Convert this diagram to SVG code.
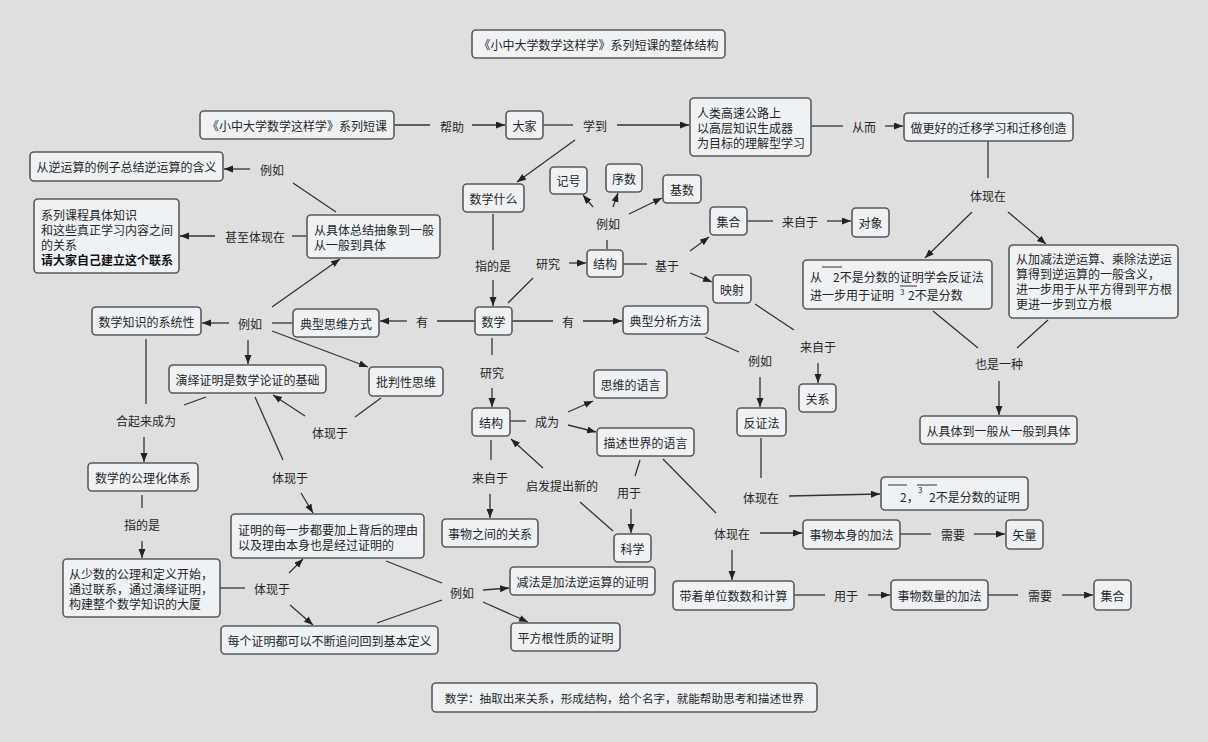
<svg xmlns="http://www.w3.org/2000/svg" width="1208" height="742" viewBox="0 0 1208 742">
<defs>
<marker id="ah" markerUnits="userSpaceOnUse" markerWidth="10" markerHeight="8" refX="9" refY="3.5" orient="auto">
<path d="M0,0 L9,3.5 L0,7 z" fill="#222"/>
</marker>
<style>
.bg{fill:#e0dfdf}
rect.n{fill:#eef2f5;stroke:#5a5a5a;stroke-width:1.6}
text{font-family:"Noto Sans CJK SC","Noto Sans",sans-serif;font-size:12px;fill:#262626}
.c{text-anchor:middle;dominant-baseline:central}
.l{dominant-baseline:central}
.b{font-weight:bold;fill:#111}
#connectors line{stroke:#333;stroke-width:1.3}
#connectors line.a{marker-end:url(#ah)}
.ov{stroke:#333;stroke-width:1}
.sup{font-size:8px}
</style>
</defs>
<rect class="bg" x="0" y="0" width="1208" height="742"/>

<g id="connectors">
<line x1="394" y1="125" x2="430" y2="125"/>
<line class="a" x1="472" y1="125" x2="505" y2="125"/>
<line x1="543" y1="125" x2="573" y2="125"/>
<line class="a" x1="617" y1="125" x2="689" y2="125"/>
<line x1="811" y1="126" x2="843" y2="126"/>
<line class="a" x1="885" y1="126" x2="903" y2="126"/>
<line class="a" x1="575" y1="140" x2="517" y2="182"/>
<line x1="493" y1="214" x2="493" y2="250"/>
<line class="a" x1="493" y1="280" x2="493" y2="306"/>
<line x1="508" y1="303" x2="533" y2="278"/>
<line class="a" x1="569" y1="263" x2="586" y2="263"/>
<line x1="607" y1="249" x2="607" y2="240"/>
<line class="a" x1="593" y1="207" x2="583" y2="195"/>
<line class="a" x1="613" y1="207" x2="618" y2="193"/>
<line class="a" x1="629" y1="214" x2="662" y2="198"/>
<line x1="623" y1="264" x2="647" y2="264"/>
<line class="a" x1="690" y1="251" x2="709" y2="237"/>
<line class="a" x1="690" y1="273" x2="712" y2="282"/>
<line x1="747" y1="221" x2="773" y2="221"/>
<line class="a" x1="827" y1="221" x2="851" y2="221"/>
<line x1="755" y1="304" x2="794" y2="330"/>
<line class="a" x1="818" y1="363" x2="818" y2="383"/>
<line x1="988" y1="141" x2="988" y2="178"/>
<line class="a" x1="972" y1="212" x2="925" y2="258"/>
<line class="a" x1="1008" y1="212" x2="1046" y2="244"/>
<line x1="933" y1="311" x2="978" y2="348"/>
<line x1="1048" y1="320" x2="1017" y2="348"/>
<line class="a" x1="999" y1="381" x2="999" y2="415"/>
<line x1="512" y1="321" x2="553" y2="321"/>
<line class="a" x1="583" y1="321" x2="622" y2="321"/>
<line x1="705" y1="337" x2="739" y2="352"/>
<line class="a" x1="760" y1="377" x2="760" y2="407"/>
<line x1="761" y1="438" x2="761" y2="478"/>
<line class="a" x1="789" y1="496" x2="880" y2="494"/>
<line x1="475" y1="321" x2="437" y2="321"/>
<line class="a" x1="407" y1="321" x2="380" y2="321"/>
<line x1="293" y1="323" x2="272" y2="323"/>
<line class="a" x1="229" y1="323" x2="202" y2="323"/>
<line class="a" x1="248" y1="340" x2="248" y2="364"/>
<line class="a" x1="272" y1="331" x2="368" y2="367"/>
<line class="a" x1="272" y1="307" x2="340" y2="259"/>
<line x1="336" y1="212" x2="293" y2="183"/>
<line class="a" x1="250" y1="169" x2="224" y2="169"/>
<line x1="306" y1="236" x2="292" y2="236"/>
<line class="a" x1="215" y1="236" x2="180" y2="236"/>
<line x1="381" y1="398" x2="355" y2="417"/>
<line class="a" x1="305" y1="416" x2="273" y2="395"/>
<line x1="146" y1="339" x2="146" y2="404"/>
<line x1="206" y1="397" x2="184" y2="405"/>
<line class="a" x1="144" y1="437" x2="144" y2="462"/>
<line x1="255" y1="397" x2="283" y2="460"/>
<line class="a" x1="301" y1="493" x2="313" y2="513"/>
<line x1="142" y1="495" x2="142" y2="508"/>
<line class="a" x1="142" y1="541" x2="142" y2="558"/>
<line x1="220" y1="588" x2="245" y2="588"/>
<line class="a" x1="289" y1="573" x2="303" y2="559"/>
<line class="a" x1="290" y1="605" x2="313" y2="625"/>
<line x1="386" y1="561" x2="442" y2="583"/>
<line x1="377" y1="623" x2="442" y2="600"/>
<line class="a" x1="483" y1="590" x2="509" y2="588"/>
<line class="a" x1="483" y1="602" x2="528" y2="622"/>
<line x1="510" y1="421" x2="526" y2="421"/>
<line class="a" x1="568" y1="412" x2="593" y2="401"/>
<line class="a" x1="568" y1="425" x2="596" y2="432"/>
<line x1="492" y1="338" x2="492" y2="355"/>
<line class="a" x1="492" y1="388" x2="492" y2="407"/>
<line x1="491" y1="440" x2="491" y2="460"/>
<line class="a" x1="490" y1="494" x2="490" y2="518"/>
<line x1="613" y1="531" x2="580" y2="502"/>
<line class="a" x1="543" y1="468" x2="511" y2="439"/>
<line x1="640" y1="460" x2="635" y2="476"/>
<line class="a" x1="631" y1="509" x2="631" y2="533"/>
<line x1="663" y1="459" x2="716" y2="513"/>
<line class="a" x1="760" y1="533" x2="802" y2="533"/>
<line class="a" x1="732" y1="550" x2="732" y2="580"/>
<line x1="900" y1="534" x2="931" y2="534"/>
<line class="a" x1="974" y1="534" x2="1005" y2="534"/>
<line x1="794" y1="595" x2="825" y2="595"/>
<line class="a" x1="868" y1="595" x2="890" y2="595"/>
<line x1="988" y1="595" x2="1018" y2="595"/>
<line class="a" x1="1062" y1="595" x2="1093" y2="595"/>
</g>

<g id="labels">
<text class="c" x="452" y="126">帮助</text>
<text class="c" x="595" y="125">学到</text>
<text class="c" x="864" y="126">从而</text>
<text class="c" x="272" y="169">例如</text>
<text class="c" x="255" y="236">甚至体现在</text>
<text class="c" x="608" y="223">例如</text>
<text class="c" x="493" y="265">指的是</text>
<text class="c" x="548" y="263">研究</text>
<text class="c" x="667" y="265">基于</text>
<text class="c" x="800" y="221">来自于</text>
<text class="c" x="988" y="195">体现在</text>
<text class="c" x="818" y="346">来自于</text>
<text class="c" x="999" y="363">也是一种</text>
<text class="c" x="250" y="323">例如</text>
<text class="c" x="422" y="321">有</text>
<text class="c" x="568" y="321">有</text>
<text class="c" x="760" y="360">例如</text>
<text class="c" x="492" y="372">研究</text>
<text class="c" x="547" y="421">成为</text>
<text class="c" x="330" y="432">体现于</text>
<text class="c" x="146" y="420">合起来成为</text>
<text class="c" x="290" y="477">体现于</text>
<text class="c" x="490" y="477">来自于</text>
<text class="c" x="562" y="485">启发提出新的</text>
<text class="c" x="629" y="492">用于</text>
<text class="c" x="761" y="497">体现在</text>
<text class="c" x="732" y="533">体现在</text>
<text class="c" x="953" y="534">需要</text>
<text class="c" x="846" y="595">用于</text>
<text class="c" x="1040" y="595">需要</text>
<text class="c" x="142" y="524">指的是</text>
<text class="c" x="272" y="588">体现于</text>
<text class="c" x="462" y="592">例如</text>
</g>

<g id="n_title"><rect class="n" x="472" y="30" width="253" height="28" rx="4"/><text class="c" x="598.5" y="44">《小中大学数学这样学》系列短课的整体结构</text></g>
<g id="n_course"><rect class="n" x="200" y="111" width="194" height="28" rx="4"/><text class="c" x="297" y="125">《小中大学数学这样学》系列短课</text></g>
<g id="n_dajia"><rect class="n" x="506" y="111" width="37" height="28" rx="4"/><text class="c" x="524.5" y="125">大家</text></g>
<g id="n_highway"><rect class="n" x="690" y="98" width="121" height="58" rx="4"/><text class="l"><tspan x="697" y="112">人类高速公路上</tspan><tspan x="697" y="127">以高层知识生成器</tspan><tspan x="697" y="142">为目标的理解型学习</tspan></text></g>
<g id="n_transfer"><rect class="n" x="904" y="113" width="169" height="28" rx="4"/><text class="c" x="988.5" y="127">做更好的迁移学习和迁移创造</text></g>
<g id="n_inverse_ex"><rect class="n" x="30" y="152" width="193" height="29" rx="4"/><text class="c" x="126.5" y="166.5">从逆运算的例子总结逆运算的含义</text></g>
<g id="n_series"><rect class="n" x="34" y="199" width="145" height="74" rx="4"/><text class="l"><tspan x="41" y="214">系列课程具体知识</tspan><tspan x="41" y="229">和这些真正学习内容之间</tspan><tspan x="41" y="244">的关系</tspan><tspan class="b" x="41" y="259">请大家自己建立这个联系</tspan></text></g>
<g id="n_abstract"><rect class="n" x="307" y="215" width="133" height="43" rx="4"/><text class="l"><tspan x="314" y="229">从具体总结抽象到一般</tspan><tspan x="314" y="244">从一般到具体</tspan></text></g>
<g id="n_whatmath"><rect class="n" x="463" y="184" width="61" height="28" rx="4"/><text class="c" x="493.5" y="198">数学什么</text></g>
<g id="n_jihao"><rect class="n" x="550" y="167" width="37" height="27" rx="4"/><text class="c" x="568.5" y="180.5">记号</text></g>
<g id="n_xushu"><rect class="n" x="606" y="164" width="36" height="28" rx="4"/><text class="c" x="624" y="178">序数</text></g>
<g id="n_jishu"><rect class="n" x="663" y="175" width="38" height="28" rx="4"/><text class="c" x="682" y="189">基数</text></g>
<g id="n_struct1"><rect class="n" x="587" y="250" width="36" height="27" rx="4"/><text class="c" x="605" y="263.5">结构</text></g>
<g id="n_set1"><rect class="n" x="710" y="207" width="37" height="28" rx="4"/><text class="c" x="728.5" y="221">集合</text></g>
<g id="n_object"><rect class="n" x="852" y="208" width="37" height="29" rx="4"/><text class="c" x="870.5" y="222.5">对象</text></g>
<g id="n_map"><rect class="n" x="713" y="275" width="38" height="28" rx="4"/><text class="c" x="732" y="289">映射</text></g>
<g id="n_sqrt"><rect class="n" x="803" y="260" width="189" height="49" rx="4"/>
<line class="ov" x1="822" y1="267" x2="842" y2="267"/>
<line class="ov" x1="900" y1="286" x2="917" y2="286"/>
<text class="l"><tspan x="810" y="276">从</tspan><tspan x="833" y="276">2不是分数的证明学会反证法</tspan><tspan x="810" y="294">进一步用于证明</tspan><tspan class="sup" x="900" y="290.5">3</tspan><tspan x="908" y="294">2不是分数</tspan></text></g>
<g id="n_inverse_gen"><rect class="n" x="1009" y="245" width="169" height="73" rx="4"/><text class="l"><tspan x="1016" y="258">从加减法逆运算、乘除法逆运</tspan><tspan x="1016" y="273">算得到逆运算的一般含义，</tspan><tspan x="1016" y="288">进一步用于从平方得到平方根</tspan><tspan x="1016" y="303">更进一步到立方根</tspan></text></g>
<g id="n_math"><rect class="n" x="475" y="307" width="37" height="28" rx="4"/><text class="c" x="493.5" y="321">数学</text></g>
<g id="n_analysis"><rect class="n" x="623" y="306" width="85" height="28" rx="4"/><text class="c" x="665.5" y="320">典型分析方法</text></g>
<g id="n_thinking"><rect class="n" x="293" y="309" width="86" height="28" rx="4"/><text class="c" x="336" y="323">典型思维方式</text></g>
<g id="n_system"><rect class="n" x="92" y="307" width="109" height="28" rx="4"/><text class="c" x="146.5" y="321">数学知识的系统性</text></g>
<g id="n_deduct"><rect class="n" x="169" y="365" width="157" height="28" rx="4"/><text class="c" x="247.5" y="379">演绎证明是数学论证的基础</text></g>
<g id="n_critical"><rect class="n" x="369" y="367" width="74" height="29" rx="4"/><text class="c" x="406" y="381.5">批判性思维</text></g>
<g id="n_relation"><rect class="n" x="799" y="384" width="37" height="28" rx="4"/><text class="c" x="817.5" y="398">关系</text></g>
<g id="n_general"><rect class="n" x="920" y="416" width="157" height="28" rx="4"/><text class="c" x="998.5" y="430">从具体到一般从一般到具体</text></g>
<g id="n_lang_think"><rect class="n" x="594" y="370" width="73" height="28" rx="4"/><text class="c" x="630.5" y="384">思维的语言</text></g>
<g id="n_struct2"><rect class="n" x="472" y="408" width="38" height="28" rx="4"/><text class="c" x="491" y="422">结构</text></g>
<g id="n_lang_world"><rect class="n" x="597" y="428" width="97" height="28" rx="4"/><text class="c" x="645.5" y="442">描述世界的语言</text></g>
<g id="n_contra"><rect class="n" x="737" y="408" width="49" height="28" rx="4"/><text class="c" x="761.5" y="422">反证法</text></g>
<g id="n_axiom_sys"><rect class="n" x="88" y="463" width="110" height="28" rx="4"/><text class="c" x="143" y="477">数学的公理化体系</text></g>
<g id="n_sqrt_proof"><rect class="n" x="881" y="477" width="147" height="33" rx="4"/>
<line class="ov" x1="888" y1="485" x2="907" y2="485"/>
<line class="ov" x1="917" y1="485" x2="937" y2="485"/>
<text class="l"><tspan x="900" y="496">2，</tspan><tspan class="sup" x="918" y="489">3</tspan><tspan x="929" y="496">2不是分数的证明</tspan></text></g>
<g id="n_between"><rect class="n" x="442" y="519" width="96" height="28" rx="4"/><text class="c" x="490" y="533">事物之间的关系</text></g>
<g id="n_step"><rect class="n" x="231" y="514" width="193" height="44" rx="4"/><text class="l"><tspan x="238" y="529">证明的每一步都要加上背后的理由</tspan><tspan x="238" y="544">以及理由本身也是经过证明的</tspan></text></g>
<g id="n_self_add"><rect class="n" x="803" y="520" width="97" height="29" rx="4"/><text class="c" x="851.5" y="534.5">事物本身的加法</text></g>
<g id="n_vector"><rect class="n" x="1006" y="520" width="37" height="29" rx="4"/><text class="c" x="1024.5" y="534.5">矢量</text></g>
<g id="n_science"><rect class="n" x="614" y="534" width="37" height="28" rx="4"/><text class="c" x="632.5" y="548">科学</text></g>
<g id="n_few"><rect class="n" x="63" y="559" width="157" height="58" rx="4"/><text class="l"><tspan x="69" y="573">从少数的公理和定义开始，</tspan><tspan x="69" y="588">通过联系，通过演绎证明，</tspan><tspan x="69" y="603">构建整个数学知识的大厦</tspan></text></g>
<g id="n_subtract"><rect class="n" x="510" y="567" width="145" height="28" rx="4"/><text class="c" x="582.5" y="581">减法是加法逆运算的证明</text></g>
<g id="n_unit"><rect class="n" x="673" y="581" width="121" height="29" rx="4"/><text class="c" x="733.5" y="595.5">带着单位数数和计算</text></g>
<g id="n_qty_add"><rect class="n" x="891" y="580" width="97" height="30" rx="4"/><text class="c" x="939.5" y="595">事物数量的加法</text></g>
<g id="n_set2"><rect class="n" x="1094" y="580" width="37" height="30" rx="4"/><text class="c" x="1112.5" y="595">集合</text></g>
<g id="n_each"><rect class="n" x="221" y="626" width="217" height="28" rx="4"/><text class="c" x="329.5" y="640">每个证明都可以不断追问回到基本定义</text></g>
<g id="n_sqrtprop"><rect class="n" x="511" y="623" width="109" height="28" rx="4"/><text class="c" x="565.5" y="637">平方根性质的证明</text></g>
<g id="n_summary"><rect class="n" x="432" y="683" width="385" height="29" rx="4"/><text class="c" x="624.5" y="697.5" style="font-size:11.6px">数学：抽取出来关系，形成结构，给个名字，就能帮助思考和描述世界</text></g>
</svg>
